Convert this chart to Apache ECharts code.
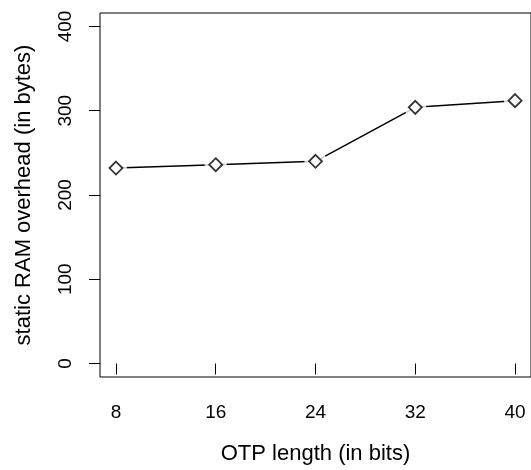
<!DOCTYPE html>
<html>
<head>
<meta charset="utf-8">
<script src="https://cdn.jsdelivr.net/npm/echarts@6/dist/echarts.min.js"></script>
<style>
  html, body { margin: 0; padding: 0; background: #fff; }
  #chart { width: 531px; height: 470px; }
</style>
</head>
<body>
<div id="chart"></div>
<script>
// OTP length vs static RAM overhead
const otpBits = [8, 16, 24, 32, 40];
const ramOverhead = [232, 236, 240, 304, 312];
const xTicks = [8, 16, 24, 32, 40];
const yTicks = [0, 100, 200, 300, 400];

const points = otpBits.map((b, i) => [b, ramOverhead[i]]);
const font = "Liberation Sans, Arial, Helvetica, sans-serif";

const chart = echarts.init(document.getElementById("chart"));
chart.setOption({
  animation: false,
  backgroundColor: "#fff",
  grid: {
    left: 100,
    top: 13,
    right: -3,
    bottom: 93,
    show: true,
    borderColor: "#000",
    borderWidth: 1,
  },
  xAxis: {
    type: "value",
    min: 6.72,
    max: 41.28,
    name: "OTP length (in bits)",
    nameLocation: "middle",
    nameGap: 66,
    nameTextStyle: { color: "#000", fontSize: 22, fontFamily: font },
    axisLine: { show: false },
    axisTick: {
      show: true,
      length: 11,
      customValues: xTicks,
      lineStyle: { color: "#000", width: 1 },
    },
    axisLabel: {
      customValues: xTicks,
      margin: 26,
      color: "#000",
      fontSize: 19,
      fontFamily: font,
    },
    splitLine: { show: false },
  },
  yAxis: {
    type: "value",
    min: -16,
    max: 416,
    name: "static RAM overhead (in bytes)",
    nameLocation: "middle",
    nameGap: 65,
    nameTextStyle: { color: "#000", fontSize: 22, fontFamily: font },
    axisLine: { show: false },
    axisTick: {
      show: true,
      length: 11,
      customValues: yTicks,
      lineStyle: { color: "#000", width: 1 },
    },
    axisLabel: {
      customValues: yTicks,
      rotate: 90,
      margin: 25,
      color: "#000",
      fontSize: 19,
      fontFamily: font,
    },
    splitLine: { show: false },
  },
  series: [
    {
      type: "line",
      data: points,
      showSymbol: false,
      symbol: "none",
      lineStyle: { color: "#000", width: 1.5 },
      z: 2,
    },
    {
      // white gaps around the points, like R's type="b"
      type: "scatter",
      data: points,
      symbol: "circle",
      symbolSize: 22,
      itemStyle: { color: "#fff", borderWidth: 0 },
      z: 3,
    },
    {
      type: "scatter",
      data: points,
      symbol: "diamond",
      symbolSize: 13,
      itemStyle: { color: "#fff", borderColor: "#000", borderWidth: 1.8 },
      z: 4,
    },
  ],
});
</script>
</body>
</html>
